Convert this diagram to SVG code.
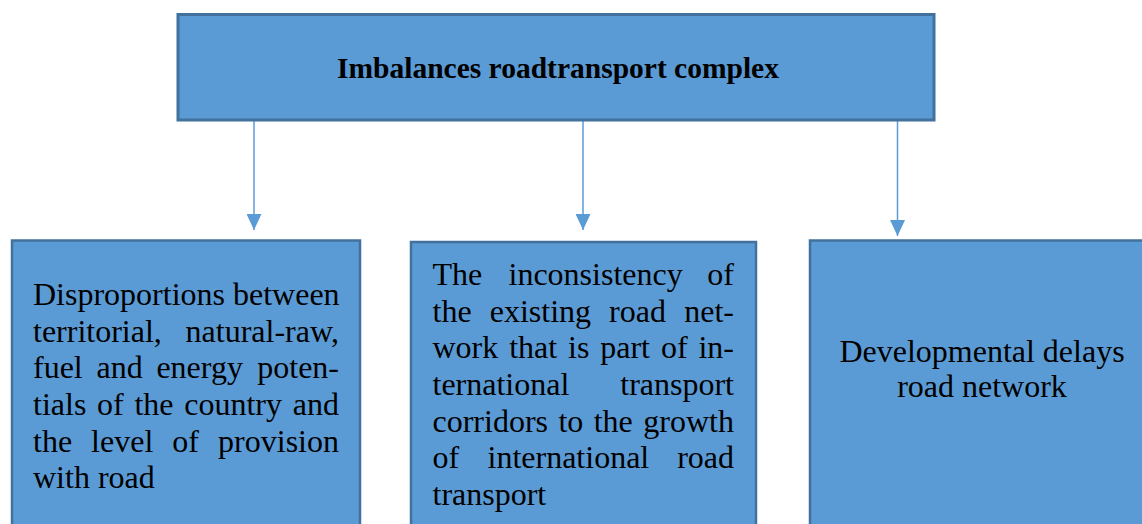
<svg xmlns="http://www.w3.org/2000/svg" width="1142" height="524" viewBox="0 0 1142 524">
<style>
.box{fill:#5B9BD5;stroke:#41719C;stroke-width:2.5}
.t{font-family:"Liberation Serif","Times New Roman",serif;font-size:32px;fill:#000}
.title{font-family:"Liberation Serif","Times New Roman",serif;font-size:29.5px;font-weight:bold;fill:#000}
.conn{stroke:#5B9BD5;stroke-width:1.5;fill:none}
</style>
<defs>
<marker id="ah" markerUnits="userSpaceOnUse" markerWidth="16" markerHeight="15" refX="16" refY="7.5" orient="auto" viewBox="0 0 16 15">
<path d="M0,0 L16,7.5 L0,15 z" fill="#5B9BD5"/>
</marker>
</defs>
<rect width="1142" height="524" fill="#fff"/>
<g id="connectors">
<line class="conn" x1="254" y1="121" x2="254" y2="230" marker-end="url(#ah)"/>
<line class="conn" x1="583" y1="121" x2="583" y2="230" marker-end="url(#ah)"/>
<line class="conn" x1="897.5" y1="121" x2="897.5" y2="236" marker-end="url(#ah)"/>
</g>
<g id="top">
<rect class="box" x="178" y="14.5" width="756" height="105.5" style="stroke-width:3"/>
<text class="title" x="558" y="78" text-anchor="middle">Imbalances roadtransport complex</text>
</g>
<g id="left">
<rect class="box" x="12" y="240.5" width="348" height="300"/>
<text class="t" y="305"><tspan x="33">Disproportions between</tspan></text>
<text class="t" y="341.7"><tspan x="33">territorial,</tspan><tspan x="339" text-anchor="end">natural-raw,</tspan></text>
<text class="t" y="378.3"><tspan x="33">fuel</tspan><tspan x="96.5">and</tspan><tspan x="156.4">energy</tspan><tspan x="339" text-anchor="end">poten-</tspan></text>
<text class="t" y="415"><tspan x="33">tials</tspan><tspan x="97">of</tspan><tspan x="134.4">the</tspan><tspan x="184.2">country</tspan><tspan x="339" text-anchor="end">and</tspan></text>
<text class="t" y="451.7"><tspan x="33">the</tspan><tspan x="91.1">level</tspan><tspan x="172.3">of</tspan><tspan x="339" text-anchor="end">provision</tspan></text>
<text class="t" y="488.3"><tspan x="33">with road</tspan></text>
</g>
<g id="middle">
<rect class="box" x="411" y="242" width="345" height="300"/>
<text class="t" y="285"><tspan x="432.5">The</tspan><tspan x="508.5">inconsistency</tspan><tspan x="734" text-anchor="end">of</tspan></text>
<text class="t" y="321.7"><tspan x="432.5">the</tspan><tspan x="489.7">existing</tspan><tspan x="609.1">road</tspan><tspan x="734" text-anchor="end">net-</tspan></text>
<text class="t" y="358.3"><tspan x="432.5">work</tspan><tspan x="509.2">that</tspan><tspan x="568">is</tspan><tspan x="600.2">part</tspan><tspan x="660.9">of</tspan><tspan x="734" text-anchor="end">in-</tspan></text>
<text class="t" y="395"><tspan x="432.5">ternational</tspan><tspan x="734" text-anchor="end">transport</tspan></text>
<text class="t" y="431.7"><tspan x="432.5">corridors</tspan><tspan x="558.4">to</tspan><tspan x="593.7">the</tspan><tspan x="734" text-anchor="end">growth</tspan></text>
<text class="t" y="468.3"><tspan x="432.5">of</tspan><tspan x="487.5">international</tspan><tspan x="734" text-anchor="end">road</tspan></text>
<text class="t" y="505"><tspan x="432.5">transport</tspan></text>
</g>
<g id="right">
<rect class="box" x="810" y="240.5" width="340" height="300"/>
<text class="t" x="982" y="361.7" text-anchor="middle">Developmental delays</text>
<text class="t" x="982" y="397.3" text-anchor="middle">road network</text>
</g>
</svg>
